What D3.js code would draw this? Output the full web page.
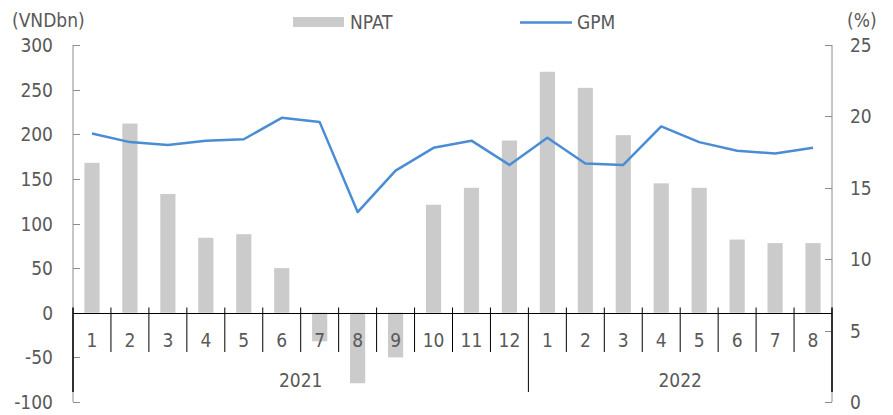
<!DOCTYPE html>
<html>
<head>
<meta charset="utf-8">
<script src="https://cdn.jsdelivr.net/npm/d3@7.9.0/dist/d3.min.js"></script>
<style>
  html, body { margin: 0; padding: 0; background: #fff; }
  svg { display: block; }
  text { font-family: "DejaVu Sans Condensed", "DejaVu Sans", sans-serif; font-stretch: condensed; fill: #595959; font-size: 19px; }
</style>
</head>
<body>
<svg id="chart" width="893" height="415"></svg>
<script>
// months along the category axis, grouped by year
const months = ['1', '2', '3', '4', '5', '6', '7', '8', '9', '10', '11', '12',
                '1', '2', '3', '4', '5', '6', '7', '8'];
const years = [{ label: '2021', count: 12 }, { label: '2022', count: 8 }];

// NPAT in VNDbn (bars, left axis)
const npat = [168, 212, 133, 84, 88, 50, -32, -79, -50, 121, 140, 193,
              270, 252, 199, 145, 140, 82, 78, 78];
// GPM in % (line, right axis)
const gpm = [18.8, 18.2, 18.0, 18.3, 18.4, 19.9, 19.6, 13.3, 16.2, 17.8, 18.3, 16.6,
             18.5, 16.7, 16.6, 19.3, 18.2, 17.6, 17.4, 17.8];

const leftTicks = [-100, -50, 0, 50, 100, 150, 200, 250, 300];
const rightTicks = [0, 5, 10, 15, 20, 25];

const svg = d3.select('#chart');
const plotLeft = 73, plotRight = 832, plotTop = 45, plotBottom = 402;

const x = d3.scaleBand()
  .domain(d3.range(months.length))
  .range([plotLeft, plotRight])
  .paddingInner(0.6)
  .paddingOuter(0.3);

const yL = d3.scaleLinear().domain([-100, 300]).range([plotBottom, plotTop]);
const yR = d3.scaleLinear().domain([0, 25]).range([plotBottom, plotTop]);

const grey = '#8c8c8c';
const step = x.step();
const edge = (i) => plotLeft + i * step;

// bars
svg.append('g')
  .selectAll('rect')
  .data(npat)
  .join('rect')
  .attr('x', (d, i) => x(i))
  .attr('width', x.bandwidth())
  .attr('y', (d) => yL(Math.max(0, d)))
  .attr('height', (d) => Math.abs(yL(d) - yL(0)))
  .attr('fill', '#cbcbcb');

// left value axis
svg.append('line')
  .attr('x1', plotLeft).attr('x2', plotLeft)
  .attr('y1', plotTop).attr('y2', plotBottom)
  .attr('stroke', grey);
svg.append('g')
  .selectAll('line')
  .data(leftTicks)
  .join('line')
  .attr('x1', plotLeft).attr('x2', plotLeft + 7)
  .attr('y1', (d) => Math.round(yL(d)) + 0.5)
  .attr('y2', (d) => Math.round(yL(d)) + 0.5)
  .attr('stroke', grey);
svg.append('g')
  .selectAll('text')
  .data(leftTicks)
  .join('text')
  .attr('x', 53)
  .attr('y', (d) => yL(d))
  .attr('text-anchor', 'end')
  .attr('dominant-baseline', 'central')
  .text((d) => d);

// right value axis
svg.append('line')
  .attr('x1', plotRight).attr('x2', plotRight)
  .attr('y1', plotTop).attr('y2', plotBottom)
  .attr('stroke', grey);
svg.append('g')
  .selectAll('line')
  .data(rightTicks)
  .join('line')
  .attr('x1', plotRight - 7).attr('x2', plotRight)
  .attr('y1', (d) => Math.round(yR(d)) + 0.5)
  .attr('y2', (d) => Math.round(yR(d)) + 0.5)
  .attr('stroke', grey);
svg.append('g')
  .selectAll('text')
  .data(rightTicks)
  .join('text')
  .attr('x', 850)
  .attr('y', (d) => yR(d))
  .attr('dominant-baseline', 'central')
  .text((d) => d);

// category axis: zero line, separators, labels
const zeroY = Math.round(yL(0)) + 0.5;
svg.append('line')
  .attr('x1', plotLeft).attr('x2', plotRight)
  .attr('y1', zeroY).attr('y2', zeroY)
  .attr('stroke', '#000');

const yearEdges = [0];
years.forEach((yr) => yearEdges.push(yearEdges[yearEdges.length - 1] + yr.count));

svg.append('g')
  .selectAll('line')
  .data(d3.range(months.length + 1))
  .join('line')
  .attr('x1', (i) => edge(i)).attr('x2', (i) => edge(i))
  .attr('y1', zeroY - 6)
  .attr('y2', (i) => (yearEdges.includes(i) ? 392 : 352))
  .attr('stroke', '#000')
  .attr('stroke-width', (i) => (i === 0 || i === months.length ? 1.5 : 1));

svg.append('g')
  .selectAll('text')
  .data(months)
  .join('text')
  .attr('x', (d, i) => x(i) + x.bandwidth() / 2)
  .attr('y', 340)
  .attr('text-anchor', 'middle')
  .attr('dominant-baseline', 'central')
  .text((d) => d);

svg.append('g')
  .selectAll('text')
  .data(years)
  .join('text')
  .attr('x', (d, i) => (edge(yearEdges[i]) + edge(yearEdges[i + 1])) / 2)
  .attr('y', 380)
  .attr('text-anchor', 'middle')
  .attr('dominant-baseline', 'central')
  .text((d) => d.label);

// GPM line
const line = d3.line()
  .x((d, i) => x(i) + x.bandwidth() / 2)
  .y((d) => yR(d));
svg.append('path')
  .datum(gpm)
  .attr('d', line)
  .attr('fill', 'none')
  .attr('stroke', '#4a8dd4')
  .attr('stroke-width', 2.5)
  .attr('stroke-linejoin', 'round');

// axis titles
svg.append('text').attr('x', 12).attr('y', 20).attr('dominant-baseline', 'central').text('(VNDbn)');
svg.append('text').attr('x', 847).attr('y', 20).attr('dominant-baseline', 'central').text('(%)');

// legend
svg.append('rect').attr('x', 293).attr('y', 17).attr('width', 51).attr('height', 10).attr('fill', '#cbcbcb');
svg.append('text').attr('x', 350).attr('y', 22).attr('dominant-baseline', 'central').text('NPAT');
svg.append('line').attr('x1', 520).attr('x2', 572).attr('y1', 22.5).attr('y2', 22.5)
  .attr('stroke', '#4a8dd4').attr('stroke-width', 2.5);
svg.append('text').attr('x', 577).attr('y', 22).attr('dominant-baseline', 'central').text('GPM');
</script>
</body>
</html>
